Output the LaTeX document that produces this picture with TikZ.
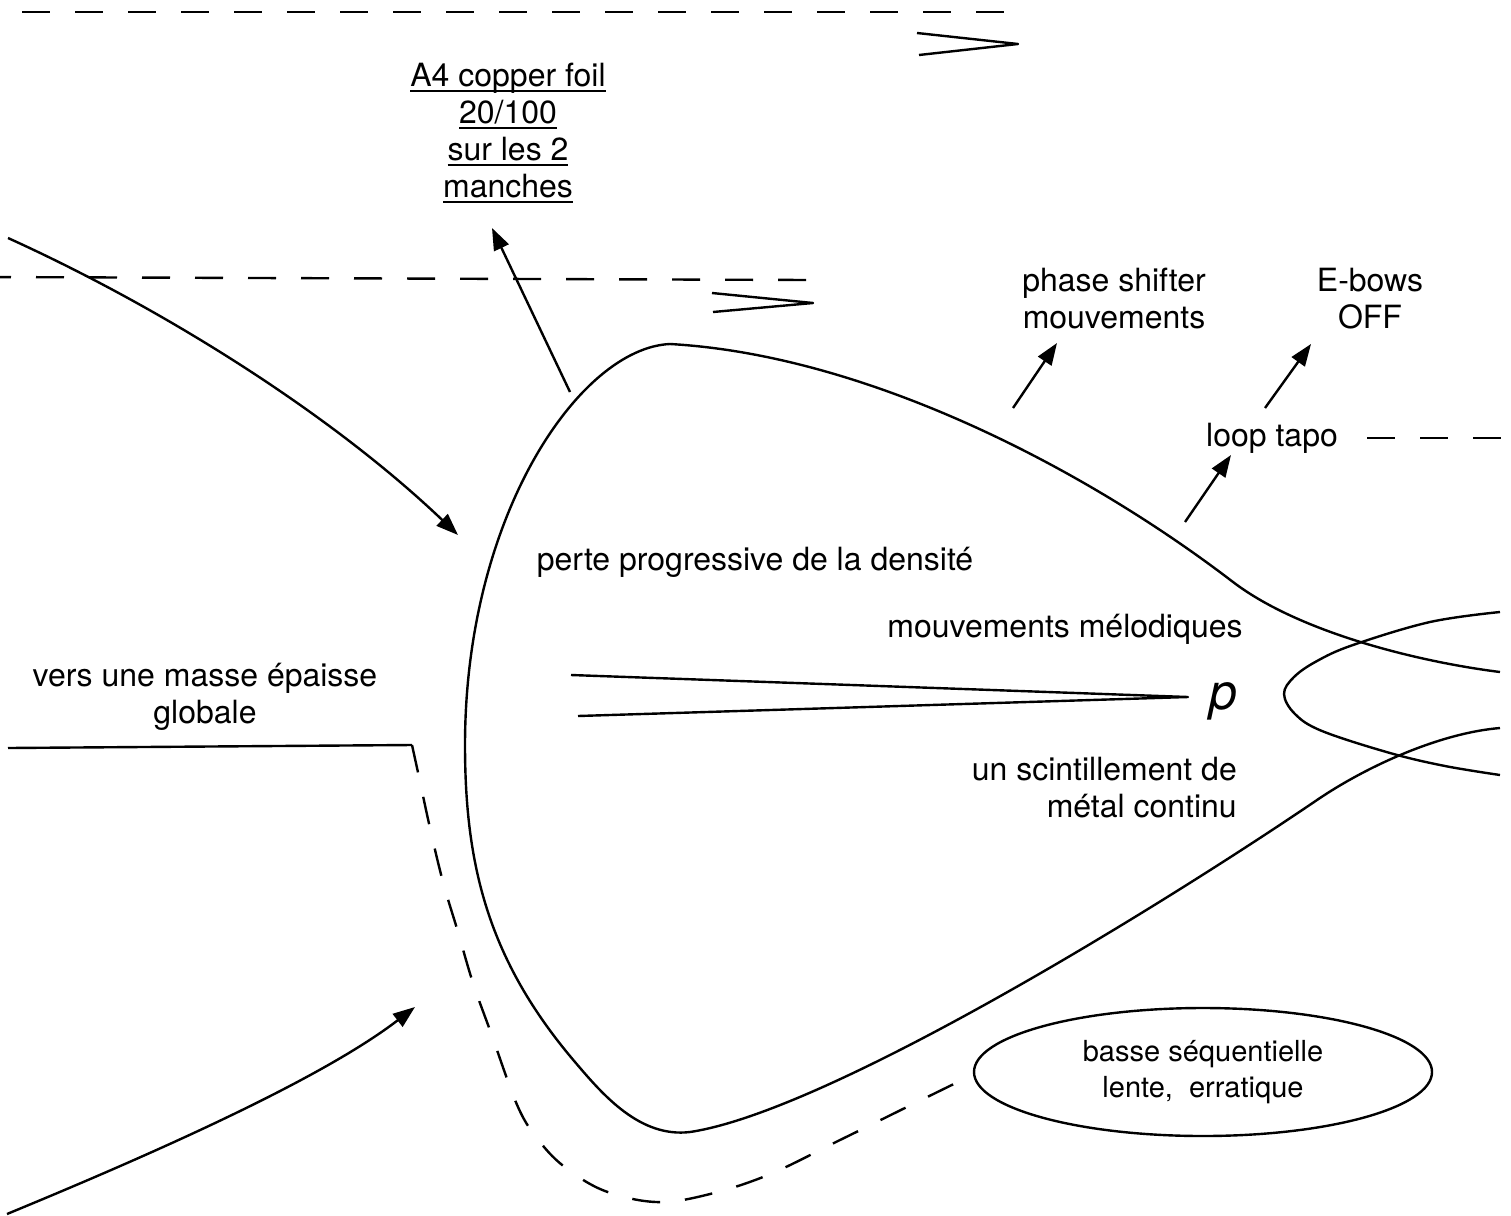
\documentclass[tikz,border=0pt]{standalone}
\usepackage{fontspec}
\setmainfont{TeX Gyre Heros}
\usetikzlibrary{arrows.meta,shapes.geometric}
\newcommand\lblfont{\fontsize{32}{37}\selectfont}
\newcommand\smallfont{\fontsize{29}{36}\selectfont}
\newcommand\ulx[1]{\setbox0\hbox{#1}\rlap{\rule[-6pt]{\wd0}{2pt}}\box0}
\begin{document}
\begin{tikzpicture}[x=1pt,y=-1pt,
  curve/.style={line width=2.4pt, line join=round},
  dashln/.style={line width=2.4pt, dash pattern=on 28pt off 25pt},
  arr/.style={line width=2.4pt, -{Triangle[length=22pt,width=16pt]}},
  hairpin/.style={line width=2.4pt, line join=round},
  lbl/.style={font=\lblfont, align=center, inner sep=0pt}]
\useasboundingbox (0,0) rectangle (1511,1215);
\clip (0,0) rectangle (1511,1215);

% ---- text nodes ----
\node[lbl] (a4) at (508,133) {\ulx{A4 copper foil}\\\ulx{20/100}\\\ulx{sur les 2}\\\ulx{manches}};
\node[lbl] (ps) at (1114,299) {phase shifter\\mouvements};
\node[lbl] (eb) at (1370,299) {E-bows\\OFF};
\node[lbl, anchor=base] (lt) at (1272,446) {loop tapo};
\node[lbl, anchor=base] (pd) at (755,570) {perte progressive de la densité};
\node[lbl, anchor=base] (mm) at (1065,637) {mouvements mélodiques};
\node[lbl] (vm) at (205,697) {vers une masse épaisse\\globale};
\node[lbl, align=right, anchor=east] (sc) at (1237,788) {un scintillement de\\métal continu};
\node[font=\itshape\fontsize{50}{60}\selectfont, anchor=base west, inner sep=0pt] (pp) at (1209,709) {p};
\node[draw, ellipse, line width=2.4pt, minimum width=458pt, minimum height=128pt,
      font=\smallfont, align=center, inner sep=0pt] (bs) at (1203,1072) {basse séquentielle\\lente,\ \ erratique};

% ---- coordinates ----
\coordinate (d1a) at (22,12);   \coordinate (d1b) at (1012,12);
\coordinate (d2a) at (-17,277); \coordinate (d2b) at (808,280);
\coordinate (d3a) at (1367,438); \coordinate (d3b) at (1515,438);
\coordinate (h1a) at (917,33);  \coordinate (h1t) at (1018,44);  \coordinate (h1b) at (919,55);
\coordinate (h2a) at (712,293); \coordinate (h2t) at (813,303);  \coordinate (h2b) at (713,312);
\coordinate (wa) at (571,675);  \coordinate (wt) at (1188,697);  \coordinate (wb) at (578,716);
\coordinate (hl1) at (8,748);   \coordinate (hl2) at (412,745);
\coordinate (tls) at (8,238);   \coordinate (tlt) at (458,535);
\coordinate (bls) at (7,1214);  \coordinate (blt) at (415,1007);
\coordinate (a4s) at (570,392); \coordinate (a4t) at (492,228);
\coordinate (pss) at (1013,408); \coordinate (pst) at (1057,343);
\coordinate (ebs) at (1265,408); \coordinate (ebt) at (1311,344);
\coordinate (lts) at (1185,522); \coordinate (ltt) at (1231,455);
% teardrop key points
\coordinate (T0) at (1500,672);
\coordinate (T1) at (1233,582);
\coordinate (T2) at (670,344);
\coordinate (T3) at (465,745);
\coordinate (T4) at (575,1062);
\coordinate (T5) at (690,1132);
\coordinate (T6) at (1317,800);
\coordinate (T7) at (1500,728);

% ---- dashed lines ----
\draw[dashln] (d1a) -- (d1b);
\draw[dashln] (d2a) -- (d2b);
\draw[dashln] (d3a) -- (d3b);

% ---- hairpins ----
\draw[hairpin] (h1a) -- (h1t) -- (h1b);
\draw[hairpin] (h2a) -- (h2t) -- (h2b);

% ---- wedge towards p ----
\draw[curve] (wa) -- (wt) -- (wb);

% ---- horizontal line and dashed curve ----
\draw[curve] (hl1) -- (hl2);
\draw[dashln] plot[smooth, tension=0.6] coordinates {(hl2) (419,777) (430,828) (443,882) (458,932) (473,983) (491,1033) (518,1107) (540,1142) (566,1168) (605,1191) (656,1202) (706,1195) (768,1175) (840,1140) (911,1105) (962,1080)};

% ---- main teardrop ----
\draw[curve] (T0) .. controls (1420,662) and (1300,633) .. (T1)
  .. controls (1083,467) and (865,355) .. (T2)
  .. controls (580,348) and (465,515) .. (T3)
  .. controls (465,865) and (488,960) .. (T4)
  .. controls (603,1095) and (640,1138) .. (T5)
  .. controls (830,1111) and (1167,902) .. (T6)
  .. controls (1367,766) and (1440,733) .. (T7);

% ---- right ellipse (cut) ----
\draw[curve] plot[smooth, tension=0.6] coordinates {(1500,612) (1430,622) (1353,645) (1317,661) (1294,677) (1284,694) (1295,714) (1322,731) (1390,753) (1445,766) (1500,775)};

% ---- arrows ----
\draw[arr] (tls) .. controls (158,306) and (328,411) .. (tlt);
\draw[arr] (bls) .. controls (150,1155) and (320,1080) .. (blt);
\draw[arr] (a4s) -- (a4t);
\draw[arr] (pss) -- (pst);
\draw[arr] (ebs) -- (ebt);
\draw[arr] (lts) -- (ltt);
\end{tikzpicture}
\end{document}
